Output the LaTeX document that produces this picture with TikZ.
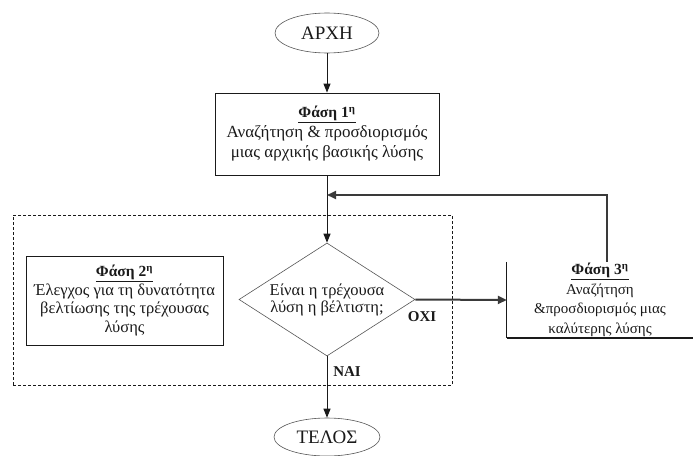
\documentclass[tikz,border=0pt]{standalone}
\usepackage{fontspec}
\setmainfont{Liberation Serif}
\usetikzlibrary{positioning,arrows.meta,calc,shapes.geometric}
\definecolor{ink}{HTML}{1A1A1A}
\definecolor{heavy}{HTML}{3A3A3A}
\definecolor{thin}{HTML}{555555}
\newcommand{\fasetitle}[1]{{\fontsize{15.5}{19}\selectfont\underline{\textbf{Φάση #1\textsuperscript{η}}}}}

\begin{document}
\begin{tikzpicture}[x=1pt,y=-1pt,
      txt/.style={font=\fontsize{17}{20}\selectfont,align=center,text=ink},
      box/.style={txt,draw=ink,line width=0.8pt,inner sep=0pt},
      term/.style={ellipse,draw=thin,line width=0.6pt,inner sep=0pt,
        font=\fontsize{19}{22}\selectfont,text=ink},
      ques/.style={diamond,draw=thin,line width=0.6pt,inner sep=-16pt,
        font=\fontsize{16.5}{17}\selectfont,align=center,text=ink,
        minimum width=176pt,minimum height=113pt},
      frame/.style={draw=ink,densely dashed,line width=0.9pt,inner sep=0pt},
      lbl/.style={font=\fontsize{15}{18}\selectfont\bfseries,text=ink},
      arr/.style={ink,line width=1pt,-{Triangle[length=9pt,width=7pt]}},
      arrthick/.style={heavy,line width=2pt,-{Triangle[length=9pt,width=8pt]}}]
    \useasboundingbox (0,0) rectangle (693,455);
    % dashed frame of phase 2
    \node[frame,minimum width=439pt,minimum height=170pt] (plaisio) at (232.5,300) {};
    % start and end
    \node[term,minimum width=104pt,minimum height=40pt] (arxh) at (327,33) {ΑΡΧΗ};
    \node[term,minimum width=106pt,minimum height=38pt] (telos) at (327,437) {ΤΕΛΟΣ};
    % phases
    \node[box,minimum width=224pt,minimum height=82pt] (faseA) at (327,134)
      {\fasetitle{1}\\Αναζήτηση \& προσδιορισμός\\μιας αρχικής βασικής λύσης};
    \node[box,minimum width=197pt,minimum height=89pt,
      font=\fontsize{16.5}{18.5}\selectfont] (faseB) at (124.5,300.5)
      {\fasetitle{2}\\Έλεγχος για τη δυνατότητα\\βελτίωσης της τρέχουσας\\λύσης};
    \node[txt,font=\fontsize{15}{19.5}\selectfont,minimum width=186pt,minimum height=76pt,
      inner sep=0pt,xshift=3pt] (faseC) at (597,300)
      {\fasetitle{3}\\Αναζήτηση\\\&προσδιορισμός μιας\\καλύτερης λύσης};
    \draw[ink,line width=0.8pt] (faseC.north west) -- (faseC.south west);
    \draw[ink,line width=2pt] (faseC.south west) -- (faseC.south east);
    % decision
    \node[ques] (erot) at (327,299.5) {Είναι η τρέχουσα\\λύση η βέλτιστη;};
    \node[lbl] (oxi) at (422,317) {ΟΧΙ};
    \node[lbl] (nai) at (347,372) {ΝΑΙ};
    % connectors
    \draw[arr] (arxh) -- (faseA);
    \draw[arr] (faseA) -- (erot);
    \draw[arr] (erot) -- (telos);
    \draw[arrthick] (erot.east) -- (faseC.west);
    \coordinate (piso) at (607,195);
    \draw[arrthick] (faseC.north -| piso) -- (piso) -- (piso -| faseA.south);
\end{tikzpicture}
\end{document}
